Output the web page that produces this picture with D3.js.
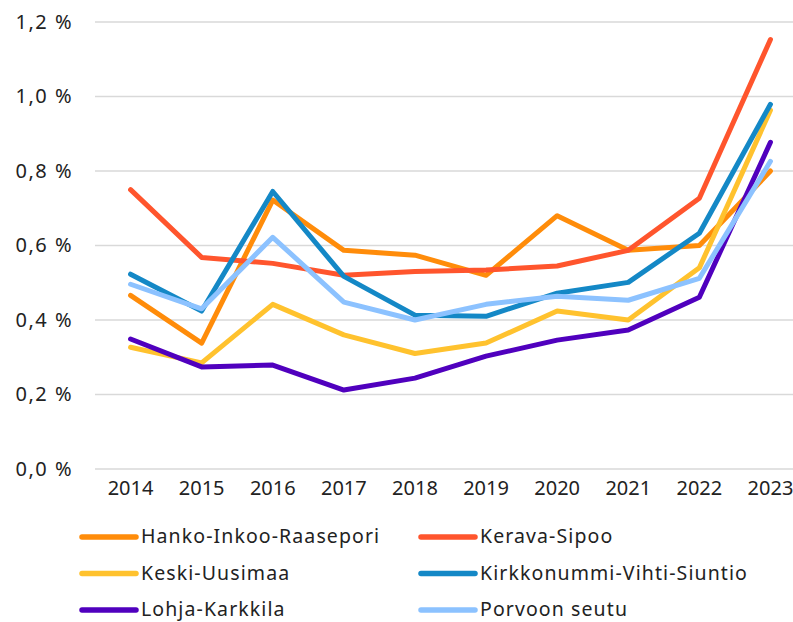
<!DOCTYPE html>
<html>
<head>
<meta charset="utf-8">
<script src="https://cdn.jsdelivr.net/npm/d3@7"></script>
<style>
  body { margin: 0; background: #fff; }
  text { font-family: "Noto Sans", Lato, sans-serif; fill: #222; }
</style>
</head>
<body>
<div id="chart"></div>
<script>
// years on the x axis
var years = ["2014", "2015", "2016", "2017", "2018", "2019", "2020", "2021", "2022", "2023"];
var yTicks = [0, 0.2, 0.4, 0.6, 0.8, 1.0, 1.2];

var seriesNames = ["Hanko-Inkoo-Raasepori", "Kerava-Sipoo", "Keski-Uusimaa",
  "Kirkkonummi-Vihti-Siuntio", "Lohja-Karkkila", "Porvoon seutu"];
var seriesColors = ["#ff8c0a", "#ff552d", "#ffc22e", "#1488c6", "#5000be", "#8cc2ff"];

var hanko   = [0.466, 0.338, 0.722, 0.587, 0.574, 0.520, 0.680, 0.587, 0.600, 0.800];
var kerava  = [0.750, 0.568, 0.552, 0.520, 0.530, 0.534, 0.545, 0.587, 0.727, 1.153];
var keski   = [0.327, 0.285, 0.442, 0.360, 0.310, 0.338, 0.424, 0.400, 0.540, 0.963];
var kirkko  = [0.523, 0.424, 0.745, 0.517, 0.413, 0.410, 0.472, 0.501, 0.633, 0.979];
var lohja   = [0.349, 0.274, 0.279, 0.212, 0.244, 0.303, 0.346, 0.373, 0.461, 0.877];
var porvoo  = [0.496, 0.430, 0.622, 0.448, 0.400, 0.442, 0.464, 0.453, 0.512, 0.826];
var allValues = [hanko, kerava, keski, kirkko, lohja, porvoo];

var svgWidth = 793, svgHeight = 622;
var margin = { top: 22, left: 95, right: -13, bottom: 153 };
var chartWidth = svgWidth - margin.left - margin.right;
var chartHeight = svgHeight - margin.top - margin.bottom;

var svg = d3.select("#chart").append("svg")
  .attr("width", svgWidth)
  .attr("height", svgHeight);

var chartGroup = svg.append("g")
  .attr("transform", `translate(${margin.left}, ${margin.top})`);

var xScale = d3.scaleBand().domain(years).range([0, chartWidth]);
var yScale = d3.scaleLinear().domain([0, 1.2]).range([chartHeight, 0]);

var fmt = function(d) { return d3.format(".1f")(d).replace(".", ",") + " %"; };

// gridlines
chartGroup.append("g")
  .selectAll("line")
  .data(yTicks)
  .enter().append("line")
  .attr("x1", 0).attr("x2", svgWidth)
  .attr("y1", d => yScale(d)).attr("y2", d => yScale(d))
  .attr("stroke", "#d9d9d9")
  .attr("stroke-width", 1.5);

// y axis
var leftAxis = d3.axisLeft(yScale).tickValues(yTicks).tickFormat(fmt).tickSize(0).tickPadding(22);
var yAxisG = chartGroup.append("g").call(leftAxis);
yAxisG.select(".domain").remove();
yAxisG.selectAll("text")
  .attr("font-size", 20)
  .attr("letter-spacing", 1.5)
  .style("fill", "#222").style("font-family", "'Noto Sans', sans-serif");

// x axis
var bottomAxis = d3.axisBottom(xScale).tickSize(0).tickPadding(12);
var xAxisG = chartGroup.append("g")
  .attr("transform", "translate(0, " + chartHeight + ")")
  .call(bottomAxis);
xAxisG.select(".domain").remove();
xAxisG.selectAll("text").attr("font-size", 20).style("fill", "#222").style("font-family", "'Noto Sans', sans-serif");

var line = d3.line()
  .x((d, i) => xScale(years[i]) + xScale.bandwidth() / 2)
  .y(d => yScale(d));

chartGroup.selectAll(".series")
  .data(allValues)
  .enter().append("path")
  .attr("class", "series")
  .attr("d", d => line(d))
  .attr("fill", "none")
  .attr("stroke", (d, i) => seriesColors[i])
  .attr("stroke-width", 5)
  .attr("stroke-linejoin", "round")
  .attr("stroke-linecap", "round");

// legend
var legend = svg.append("g");
var items = legend.selectAll("g")
  .data(seriesNames)
  .enter().append("g")
  .attr("transform", (d, i) => `translate(${i % 2 === 0 ? 82 : 421}, ${537 + Math.floor(i / 2) * 36.5})`);

items.append("line")
  .attr("x1", 0).attr("x2", 54)
  .attr("stroke", (d, i) => seriesColors[i])
  .attr("stroke-width", 5.5)
  .attr("stroke-linecap", "round");

items.append("text")
  .attr("x", 59)
  .attr("dy", "0.33em")
  .attr("font-size", 19.5)
  .attr("letter-spacing", 1.1)
  .text(d => d);
</script>
</body>
</html>
